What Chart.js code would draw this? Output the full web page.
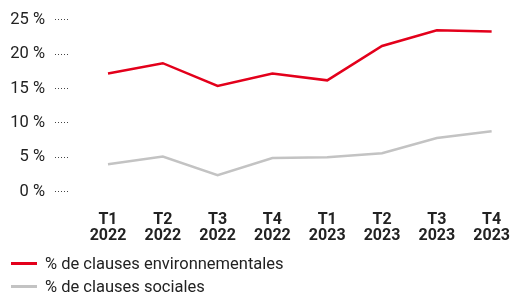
<!DOCTYPE html>
<html>
<head>
    <meta charset="UTF-8">
    <title>Clauses chart</title>
    <script src="https://cdn.jsdelivr.net/npm/chart.js"></script>
    <style>
        body { margin: 0; background: #fff; font-family: Roboto, sans-serif; color: #222; }
        #wrap { position: relative; width: 523px; height: 257px; }
        #legend { position: absolute; top: 252px; left: 0; margin: 0; padding: 0 0 0 11px; list-style: none; font-size: 16.5px; }
        #legend li { display: flex; align-items: center; height: 23px; }
        #legend span.sw { display: inline-block; width: 26px; height: 3px; margin-right: 8px; }
    </style>
</head>
<body>
    <div id="wrap"><canvas id="clausesChart"></canvas></div>
    <ul id="legend"></ul>

<script>
        const quarters = [['T1', '2022'], ['T2', '2022'], ['T3', '2022'], ['T4', '2022'],
                          ['T1', '2023'], ['T2', '2023'], ['T3', '2023'], ['T4', '2023']];
        const envValues = [17.2, 18.7, 15.4, 17.2, 16.2, 21.2, 23.5, 23.3];
        const socValues = [4.0, 5.1, 2.4, 4.9, 5.0, 5.6, 7.8, 8.8];
        const seriesNames = ['% de clauses environnementales', '% de clauses sociales'];
        const seriesColors = ['#e3001b', '#c3c3c3'];

        var ctx = document.getElementById('clausesChart').getContext('2d');
        var clausesChart = new Chart(ctx, {
            type: 'line',
            data: {
                labels: quarters,
                datasets: [{
                    label: seriesNames[0],
                    data: envValues,
                    borderColor: seriesColors[0],
                    borderWidth: 2.5,
                    pointRadius: 0,
                    tension: 0
                }, {
                    label: seriesNames[1],
                    data: socValues,
                    borderColor: seriesColors[1],
                    borderWidth: 2.5,
                    pointRadius: 0,
                    tension: 0
                }]
            },
            options: {
                responsive: true,
                maintainAspectRatio: false,
                animation: false,
                layout: { padding: { top: 14, right: 20, bottom: 0, left: 0 } },
                plugins: {
                    legend: { display: false },
                    tooltip: { enabled: false }
                },
                scales: {
                    x: {
                        offset: false,
                        grid: { display: false },
                        border: { display: false },
                        ticks: {
                            color: '#222',
                            padding: 13,
                            maxRotation: 0,
                            autoSkip: false,
                            font: { family: 'Roboto', size: 16, weight: 'bold', lineHeight: 0.98 }
                        }
                    },
                    y: {
                        min: 0,
                        max: 25,
                        afterFit: function (scale) { scale.width = 108; },
                        border: { display: false },
                        grid: {
                            drawOnChartArea: false,
                            drawTicks: true,
                            tickLength: 53,
                            tickColor: '#444',
                            tickWidth: 1,
                            tickBorderDash: [1, 2, 1, 2, 1, 2, 1, 2, 1, 2, 0, 38]
                        },
                        ticks: {
                            stepSize: 5,
                            padding: 10,
                            color: '#222',
                            font: { family: 'Roboto', size: 16.5 },
                            callback: function (v) { return v + ' %'; }
                        }
                    }
                }
            }
        });

        var legend = document.getElementById('legend');
        clausesChart.data.datasets.forEach(function (ds) {
            var li = document.createElement('li');
            li.innerHTML = '<span class="sw" style="background:' + ds.borderColor + '"></span>' + ds.label;
            legend.appendChild(li);
        });
    </script>
</body>
</html>
